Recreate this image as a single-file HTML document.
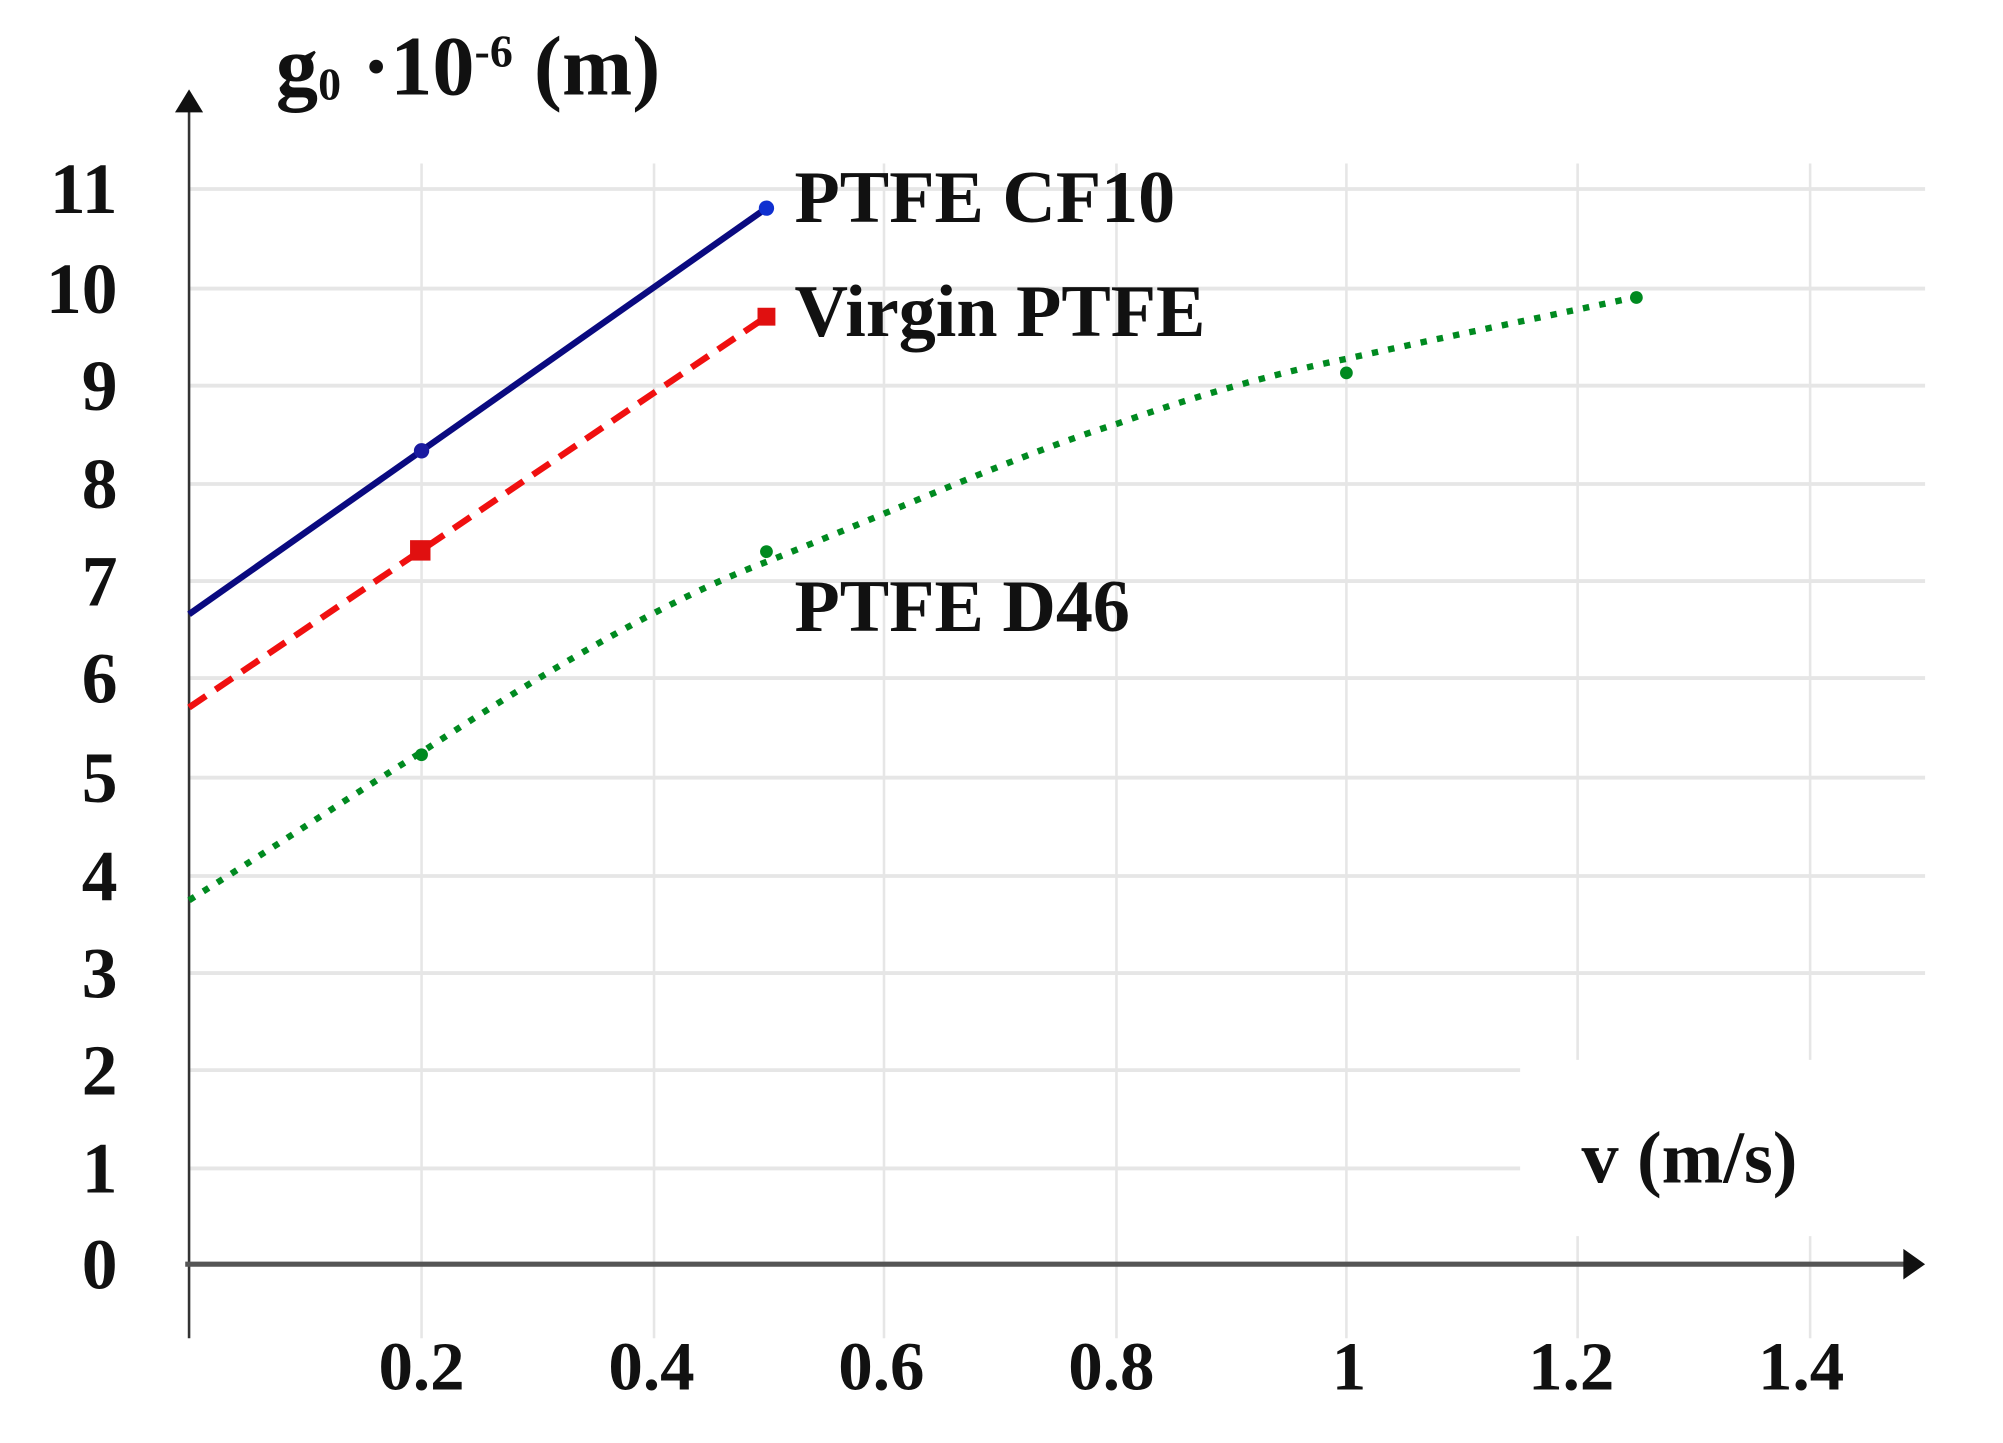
<!DOCTYPE html>
<html><head><meta charset="utf-8"><style>
html,body{margin:0;padding:0;background:#fff;}
svg{display:block;}
text{font-family:"Liberation Serif",serif;font-weight:bold;fill:#111;}
</style></head><body>
<svg width="2003" height="1443" viewBox="0 0 1568 1130" preserveAspectRatio="none" xmlns="http://www.w3.org/2000/svg">
<rect width="1568" height="1130" fill="#fff"/>
<g stroke="#e6e6e6" stroke-width="3">
<line x1="148" y1="148" x2="1507" y2="148"/>
<line x1="148" y1="226" x2="1507" y2="226"/>
<line x1="148" y1="302" x2="1507" y2="302"/>
<line x1="148" y1="379" x2="1507" y2="379"/>
<line x1="148" y1="455" x2="1507" y2="455"/>
<line x1="148" y1="531" x2="1507" y2="531"/>
<line x1="148" y1="609" x2="1507" y2="609"/>
<line x1="148" y1="686" x2="1507" y2="686"/>
<line x1="148" y1="762" x2="1507" y2="762"/>
<line x1="148" y1="838" x2="1190" y2="838"/>
<line x1="148" y1="915" x2="1190" y2="915"/>
</g>
<g stroke="#e6e6e6" stroke-width="2">
<line x1="330" y1="128" x2="330" y2="1048"/>
<line x1="512" y1="128" x2="512" y2="1048"/>
<line x1="692" y1="128" x2="692" y2="1048"/>
<line x1="874" y1="128" x2="874" y2="1048"/>
<line x1="1054" y1="128" x2="1054" y2="1048"/>
<line x1="1235" y1="128" x2="1235" y2="830"/>
<line x1="1417" y1="128" x2="1417" y2="830"/>
<line x1="1235" y1="968" x2="1235" y2="1048"/>
<line x1="1417" y1="968" x2="1417" y2="1048"/>
</g>
<line x1="148" y1="85" x2="148" y2="1048" stroke="#333" stroke-width="2"/>
<polygon points="148,70 137,88 159,88" fill="#111"/>
<line x1="145" y1="990" x2="1495" y2="990" stroke="#555" stroke-width="4"/>
<polygon points="1507,990 1490,978 1490,1002" fill="#111"/>
<line x1="148" y1="481" x2="600" y2="163" stroke="#0a0a80" stroke-width="5"/>
<circle cx="330" cy="353" r="6" fill="#1a1aa0"/>
<circle cx="600" cy="163" r="6" fill="#1030d0"/>
<line x1="148" y1="554" x2="600" y2="248" stroke="#f01010" stroke-width="5" stroke-dasharray="16,9"/>
<rect x="321" y="423" width="16" height="16" fill="#e01010"/>
<rect x="593" y="241" width="14" height="14" fill="#e01010"/>
<path d="M148,705 C220,660 280,620 330,589 C420,530 520,470 600,440 C700,400 800,355 874,332 C950,305 1010,290 1054,281 C1130,264 1200,250 1279,233" fill="none" stroke="#008a20" stroke-width="5" stroke-dasharray="5,8"/>
<circle cx="330" cy="591" r="5" fill="#008a20"/>
<circle cx="600" cy="432" r="5" fill="#008a20"/>
<circle cx="1054" cy="292" r="5" fill="#008a20"/>
<circle cx="1281" cy="233" r="5" fill="#008a20"/>
<g font-size="58">
<text x="622" y="174">PTFE CF10</text>
<text x="622" y="263">Virgin PTFE</text>
<text x="622" y="494">PTFE D46</text>
<text x="1238" y="926">v (m/s)</text>
</g>
<text x="216" y="74" font-size="66">g<tspan font-size="36" dy="4">0</tspan><tspan dy="-4"> ·10</tspan><tspan font-size="36" dy="-22">-6</tspan><tspan dy="22"> (m)</tspan></text>
<g font-size="56" text-anchor="end">
<text x="92" y="167">11</text>
<text x="92" y="245">10</text>
<text x="92" y="321">9</text>
<text x="92" y="398">8</text>
<text x="92" y="474">7</text>
<text x="92" y="550">6</text>
<text x="92" y="628">5</text>
<text x="92" y="705">4</text>
<text x="92" y="781">3</text>
<text x="92" y="857">2</text>
<text x="92" y="934">1</text>
<text x="92" y="1009">0</text>
</g>
<g font-size="54" text-anchor="middle">
<text x="330" y="1088">0.2</text>
<text x="510" y="1088">0.4</text>
<text x="690" y="1088">0.6</text>
<text x="870" y="1088">0.8</text>
<text x="1056" y="1088">1</text>
<text x="1230" y="1088">1.2</text>
<text x="1410" y="1088">1.4</text>
</g>
</svg>
</body></html>
